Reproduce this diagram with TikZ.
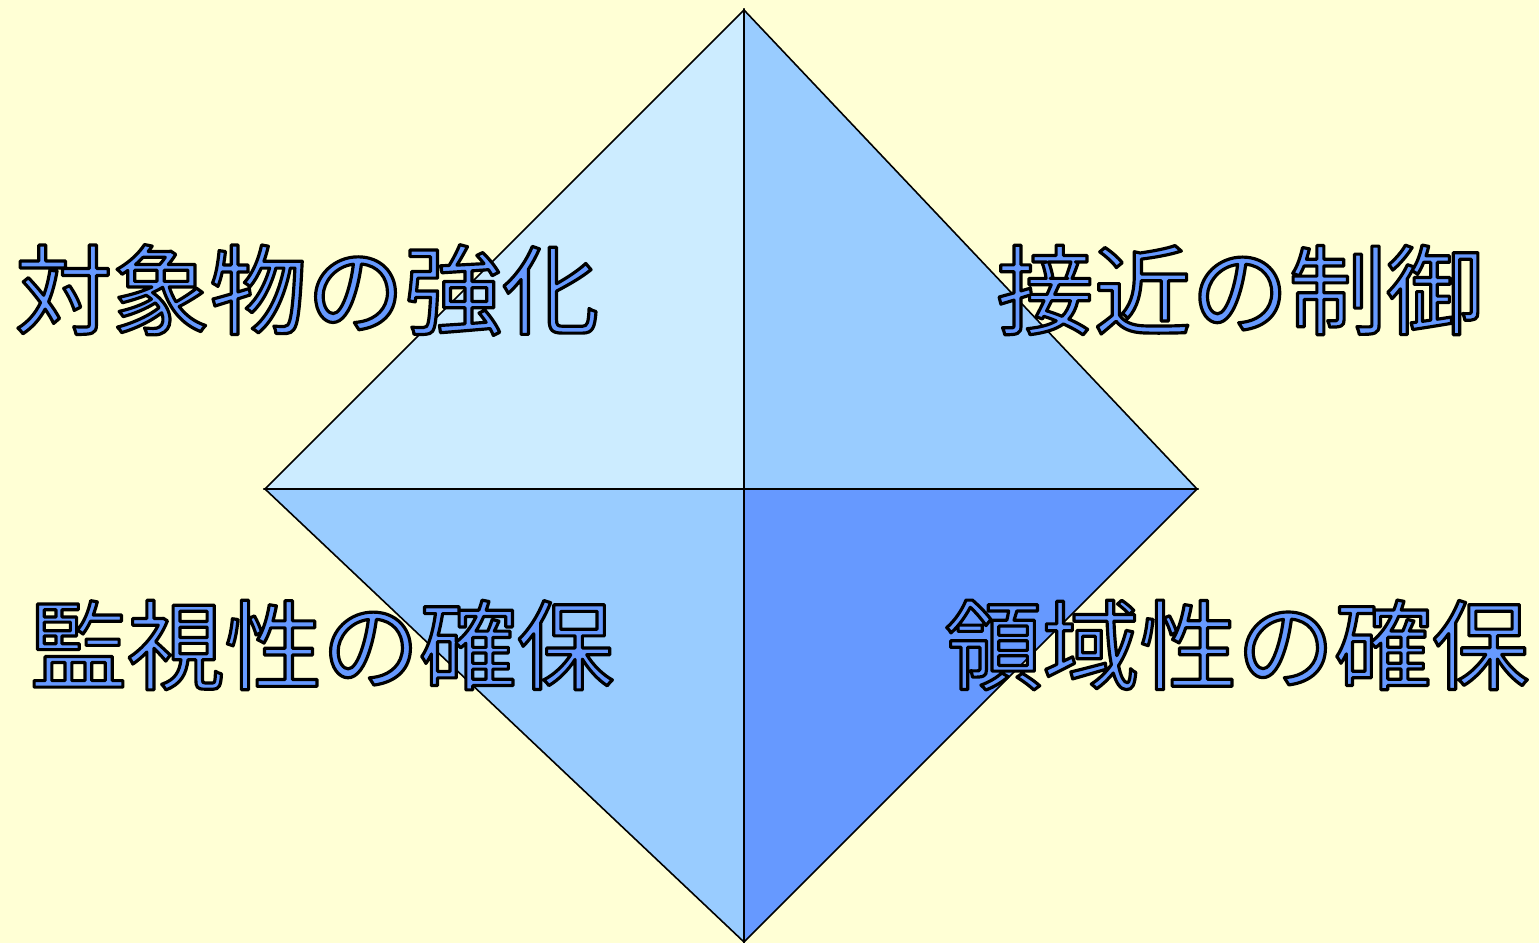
\documentclass[tikz,border=0pt]{standalone}
\usepackage{fontspec}
\newfontfamily\jpfont{Noto Sans CJK JP}
\definecolor{bgyellow}{RGB}{255,255,213}
\definecolor{paleblue}{RGB}{204,236,255}
\definecolor{midblue}{RGB}{153,204,255}
\definecolor{deepblue}{RGB}{102,153,255}
\tikzset{
  lbl/.style={inner sep=0pt, anchor=center, font=\jpfont\fontsize{27.7pt}{30pt}\selectfont},
  facet/.style={draw=black, line width=0.45pt, line join=miter},
}
\newcommand\outlined[1]{%
  \special{pdf:code 2 Tr 0.9 w 1 j 0 0 0 RG 0.4 0.6 1 rg}#1\special{pdf:code 0 Tr 0 g 0 G}}
\begin{document}
\begin{tikzpicture}[x=0.01cm, y=-0.01cm]
  \fill[bgyellow] (0,0) rectangle (1539,943);
  \useasboundingbox (0,0) rectangle (1539,943);
  \coordinate (top) at (744,10);
  \coordinate (left) at (265,489);
  \coordinate (right) at (1197,489);
  \coordinate (bottom) at (744,942);
  \coordinate (center) at (744,489);
  \filldraw[facet, fill=paleblue] (top) -- (center) -- (left) -- cycle;
  \filldraw[facet, fill=midblue] (top) -- (right) -- (center) -- cycle;
  \filldraw[facet, fill=midblue] (left) -- (center) -- (bottom) -- cycle;
  \filldraw[facet, fill=deepblue] (center) -- (right) -- (bottom) -- cycle;
  \node[lbl] (t1) at (307,290) {\outlined{対象物の強化}};
  \node[lbl] (t2) at (1240,290) {\outlined{接近の制御}};
  \node[lbl] (t3) at (322,645) {\outlined{監視性の確保}};
  \node[lbl] (t4) at (1237,645) {\outlined{領域性の確保}};
\end{tikzpicture}
\end{document}
